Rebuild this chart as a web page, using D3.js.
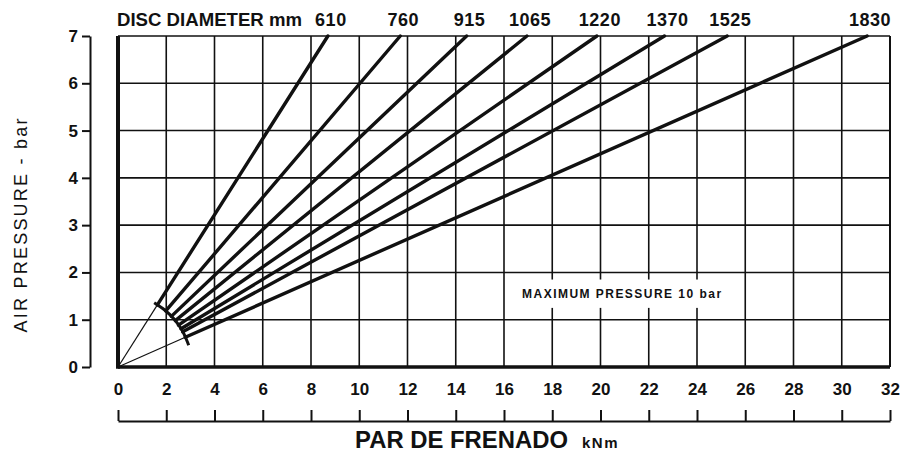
<!DOCTYPE html>
<html>
<head>
<meta charset="utf-8">
<script src="https://cdn.jsdelivr.net/npm/d3@7"></script>
<style>
  html, body { margin: 0; padding: 0; background: #fff; }
  svg { display: block; }
  text { font-family: "Liberation Sans", Arial, Helvetica, sans-serif; fill: #111; }
</style>
</head>
<body>
<svg id="chart" width="902" height="452"></svg>
<script>
// ---- data ----
const discDiameters = ["610", "760", "915", "1065", "1220", "1370", "1525", "1830"];
// braking torque (kNm) reached at 7 bar for each disc line (lines pass through origin)
const torqueAt7bar = [8.7, 11.7, 14.45, 16.95, 19.85, 22.65, 25.25, 31.05];
// lower-limit arc where the thick lines begin
const arcTorque   = [1.5, 1.95, 2.35, 2.65, 2.87, 2.93];
const arcPressure = [1.36, 1.2, 1.0, 0.78, 0.54, 0.46];
const xTicks = d3.range(0, 33, 2);          // 0..32
const yTicks = d3.range(0, 8, 1);           // 0..7
const noteText = "MAXIMUM PRESSURE 10 bar";

// ---- layout ----
const svg = d3.select("#chart");
const x = d3.scaleLinear().domain([0, 32]).range([118, 890]);
const y = d3.scaleLinear().domain([0, 7]).range([367, 36]);
const ink = "#111";

// grid
const grid = svg.append("g");
grid.selectAll("line.v").data(xTicks.filter(d => d > 0 && d < 32)).join("line")
  .attr("x1", d => x(d)).attr("x2", d => x(d))
  .attr("y1", y(0)).attr("y2", y(7))
  .attr("stroke", ink).attr("stroke-width", 1.6);
grid.selectAll("line.h").data(yTicks.filter(d => d > 0 && d < 7)).join("line")
  .attr("x1", x(0)).attr("x2", x(32))
  .attr("y1", d => y(d)).attr("y2", d => y(d))
  .attr("stroke", ink).attr("stroke-width", 1.6);

// white box for the note
svg.append("rect")
  .attr("x", x(16.5)).attr("width", x(25.5) - x(16.5))
  .attr("y", y(1.85)).attr("height", y(1.25) - y(1.85))
  .attr("fill", "#fff");
svg.append("text")
  .attr("x", x(16.5) + 6).attr("y", y(1.45))
  .attr("font-size", 12).attr("font-weight", "bold")
  .attr("textLength", 199).attr("lengthAdjust", "spacing")
  .text(noteText);

// frame
svg.append("line").attr("x1", x(0)).attr("x2", x(32)).attr("y1", y(7)).attr("y2", y(7))
  .attr("stroke", ink).attr("stroke-width", 1.6);
svg.append("line").attr("x1", x(32)).attr("x2", x(32)).attr("y1", y(7)).attr("y2", y(0))
  .attr("stroke", ink).attr("stroke-width", 2);
svg.append("line").attr("x1", x(0)).attr("x2", x(32)).attr("y1", y(0)).attr("y2", y(0))
  .attr("stroke", ink).attr("stroke-width", 3.5);
svg.append("line").attr("x1", x(0)).attr("x2", x(0)).attr("y1", y(7)).attr("y2", y(0) + 1.7)
  .attr("stroke", ink).attr("stroke-width", 4);

// arc intersection helper (data space, ray from origin with slope s)
const arcPts = arcTorque.map((t, i) => [t, arcPressure[i]]);
function arcStart(s) {
  for (let i = 0; i < arcPts.length - 1; i++) {
    const [x1, y1] = arcPts[i], [x2, y2] = arcPts[i + 1];
    const dx = x2 - x1, dy = y2 - y1;
    const u = (s * x1 - y1) / (dy - s * dx);
    if (u >= 0 && u <= 1) return [x1 + u * dx, y1 + u * dy];
  }
  return [0, 0];
}

const lines = discDiameters.map((d, i) => {
  const s = 7 / torqueAt7bar[i];
  return { d, s, top: torqueAt7bar[i], start: arcStart(s) };
});

// thin lines from origin to the arc (outer lines)
[lines[0], lines[lines.length - 1]].forEach(l => {
  svg.append("line")
    .attr("x1", x(0)).attr("y1", y(0))
    .attr("x2", x(l.start[0])).attr("y2", y(l.start[1]))
    .attr("stroke", ink).attr("stroke-width", 1.2);
});

// thick disc lines
svg.selectAll("line.disc").data(lines).join("line")
  .attr("x1", l => x(l.start[0])).attr("y1", l => y(l.start[1]))
  .attr("x2", l => x(l.top)).attr("y2", y(7))
  .attr("stroke", ink).attr("stroke-width", 3.4).attr("stroke-linecap", "round");

// arc
svg.append("path").datum(arcPts)
  .attr("d", d3.line().x(p => x(p[0])).y(p => y(p[1])).curve(d3.curveCatmullRom))
  .attr("fill", "none").attr("stroke", ink).attr("stroke-width", 3);

// top labels
svg.append("text").attr("x", 117).attr("y", 26)
  .attr("font-size", 18).attr("font-weight", "bold")
  .attr("textLength", 185).attr("lengthAdjust", "spacingAndGlyphs")
  .text("DISC DIAMETER mm");
svg.selectAll("text.dd").data(lines).join("text")
  .attr("x", l => x(l.top) + 3).attr("y", 26)
  .attr("text-anchor", "middle")
  .attr("font-size", 18).attr("font-weight", "bold")
  .attr("letter-spacing", 0.5)
  .text(l => l.d);

// left axis (separate)
const yAxis = d3.axisLeft(y).tickValues(yTicks).tickSize(8).tickSizeOuter(0).tickPadding(4)
  .tickFormat(d3.format("d"));
const gy = svg.append("g").attr("transform", "translate(90,0)").call(yAxis);
gy.select(".domain").attr("stroke", ink).attr("stroke-width", 2);
gy.selectAll(".tick line").attr("stroke", ink).attr("stroke-width", 2);
gy.selectAll(".tick text").attr("font-size", 17).attr("font-weight", "bold")
  .attr("font-family", "Liberation Sans, Arial, sans-serif").attr("fill", ink);

svg.append("text")
  .attr("transform", `translate(27,${(118 + 333) / 2}) rotate(-90)`)
  .attr("text-anchor", "middle")
  .attr("font-size", 18)
  .attr("textLength", 214).attr("lengthAdjust", "spacing")
  .text("AIR PRESSURE  -  bar");

// bottom tick labels
const xLab = d3.axisBottom(x).tickValues(xTicks).tickSize(0).tickPadding(16).tickFormat(d3.format("d"));
const gxl = svg.append("g").attr("transform", `translate(0,${y(0)})`).call(xLab);
gxl.select(".domain").remove();
gxl.selectAll(".tick text").attr("font-size", 17).attr("font-weight", "bold")
  .attr("font-family", "Liberation Sans, Arial, sans-serif").attr("fill", ink);

// bottom separate axis
const xAxis = d3.axisTop(x).tickValues(xTicks).tickSize(11).tickSizeOuter(0).tickFormat("");
const gx = svg.append("g").attr("transform", "translate(0,421)").call(xAxis);
gx.select(".domain").attr("stroke", ink).attr("stroke-width", 2);
gx.selectAll(".tick line").attr("stroke", ink).attr("stroke-width", 2);

// x title
svg.append("text").attr("x", 355).attr("y", 448)
  .attr("font-size", 23).attr("font-weight", "bold")
  .attr("textLength", 213).attr("lengthAdjust", "spacingAndGlyphs")
  .text("PAR DE FRENADO");
svg.append("text").attr("x", 582).attr("y", 448)
  .attr("font-size", 15).attr("font-weight", "bold")
  .attr("letter-spacing", 1.5)
  .text("kNm");
</script>
</body>
</html>
